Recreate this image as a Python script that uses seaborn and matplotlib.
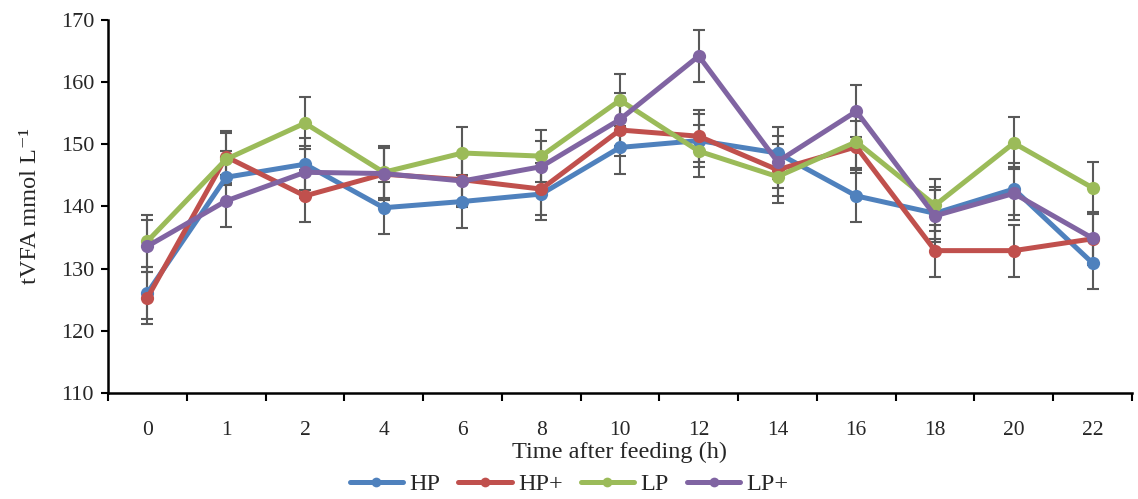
import numpy as np
import pandas as pd
import matplotlib
matplotlib.use("Agg")
import matplotlib.pyplot as plt
from matplotlib.legend_handler import HandlerLine2D
from matplotlib.lines import Line2D
import seaborn as sns

times = ["0", "1", "2", "4", "6", "8", "10", "12", "14", "16", "18", "20", "22"]
HP = [126.1, 144.7, 146.8, 139.8, 140.8, 142.0, 149.5, 150.6, 148.6, 141.7, 138.9, 142.8, 130.9]
HP_plus = [125.3, 148.0, 141.7, 145.2, 144.3, 142.8, 152.3, 151.3, 145.9, 149.6, 132.9, 132.9, 134.8]
LP = [134.4, 147.6, 153.4, 145.5, 148.6, 148.1, 157.1, 148.9, 144.8, 150.4, 140.2, 150.2, 143.0]
LP_plus = [133.6, 140.9, 145.5, 145.3, 144.1, 146.4, 154.0, 164.2, 147.2, 155.3, 138.5, 142.1, 134.9]
err = [4.2] * len(times)
series_names = ["HP", "HP+", "LP", "LP+"]
colors = ["#4F81BD", "#C0504D", "#9BBB59", "#8064A2"]

sns.set_theme(style="ticks")
plt.rcParams["font.family"] = ["Liberation Serif", "DejaVu Serif"]

pos = np.arange(len(times))
rows = []
for name, vals in zip(series_names, [HP, HP_plus, LP, LP_plus]):
    for p, v in zip(pos, vals):
        rows.append({"pos": p, "value": v, "series": name})
df = pd.DataFrame(rows)

fig = plt.figure(figsize=(11.38, 4.99), dpi=100)
ax = fig.add_axes([0.0949, 0.2124, 0.9947 - 0.0949, 0.96 - 0.2124])

for name, vals, c in zip(series_names, [HP, HP_plus, LP, LP_plus], colors):
    ax.errorbar(pos, vals, yerr=err, fmt="none", ecolor="#595959",
                elinewidth=1.5, capsize=4, capthick=1.5, zorder=2)
    sub = df[df["series"] == name]
    sns.lineplot(data=sub, x="pos", y="value", ax=ax, color=c, lw=3.6,
                 marker="o", markersize=9.5, markeredgewidth=0, label=name,
                 zorder=3, errorbar=None)

ax.set_xlim(-0.5, len(times) - 0.5)
ax.set_ylim(110, 170)
ax.set_yticks(np.arange(110, 171, 10))
ax.set_xticks(np.arange(-0.5, len(times), 1.0))
ax.set_xticklabels([])
ax.set_xticks(pos, minor=True)
ax.set_xticklabels(times, minor=True)
ax.tick_params(axis="x", which="major", length=6, width=1.5, direction="out", color="black")
ax.tick_params(axis="x", which="minor", length=0, pad=20, labelsize=15.5)
ax.tick_params(axis="y", length=5, width=1.5, direction="out", labelsize=16, color="black", pad=5)
for s in ["top", "right"]:
    ax.spines[s].set_visible(False)
for s in ["left", "bottom"]:
    ax.spines[s].set_linewidth(1.8)
    ax.spines[s].set_color("black")

ax.set_xlabel("Time after feeding (h)", fontsize=17.5, va="center")
ax.xaxis.set_label_coords(0.5, -0.158)
ax.set_ylabel("tVFA mmol L\u207b\u00b9", fontsize=17.5, va="center")
ax.yaxis.set_label_coords(-0.076, 0.5)

ax.get_legend().remove()
handles, labels = ax.get_legend_handles_labels()


def _small_marker(legend_line, orig):
    legend_line.update_from(orig)
    legend_line.set_markersize(7)


fig.legend(handles, labels, loc="center", bbox_to_anchor=(0.5, 0.03), ncol=4,
           frameon=False, fontsize=17.5, handlelength=2.2, columnspacing=0.75,
           handletextpad=0.25,
           handler_map={Line2D: HandlerLine2D(update_func=_small_marker)})

fig.savefig("out.png", dpi=100)
